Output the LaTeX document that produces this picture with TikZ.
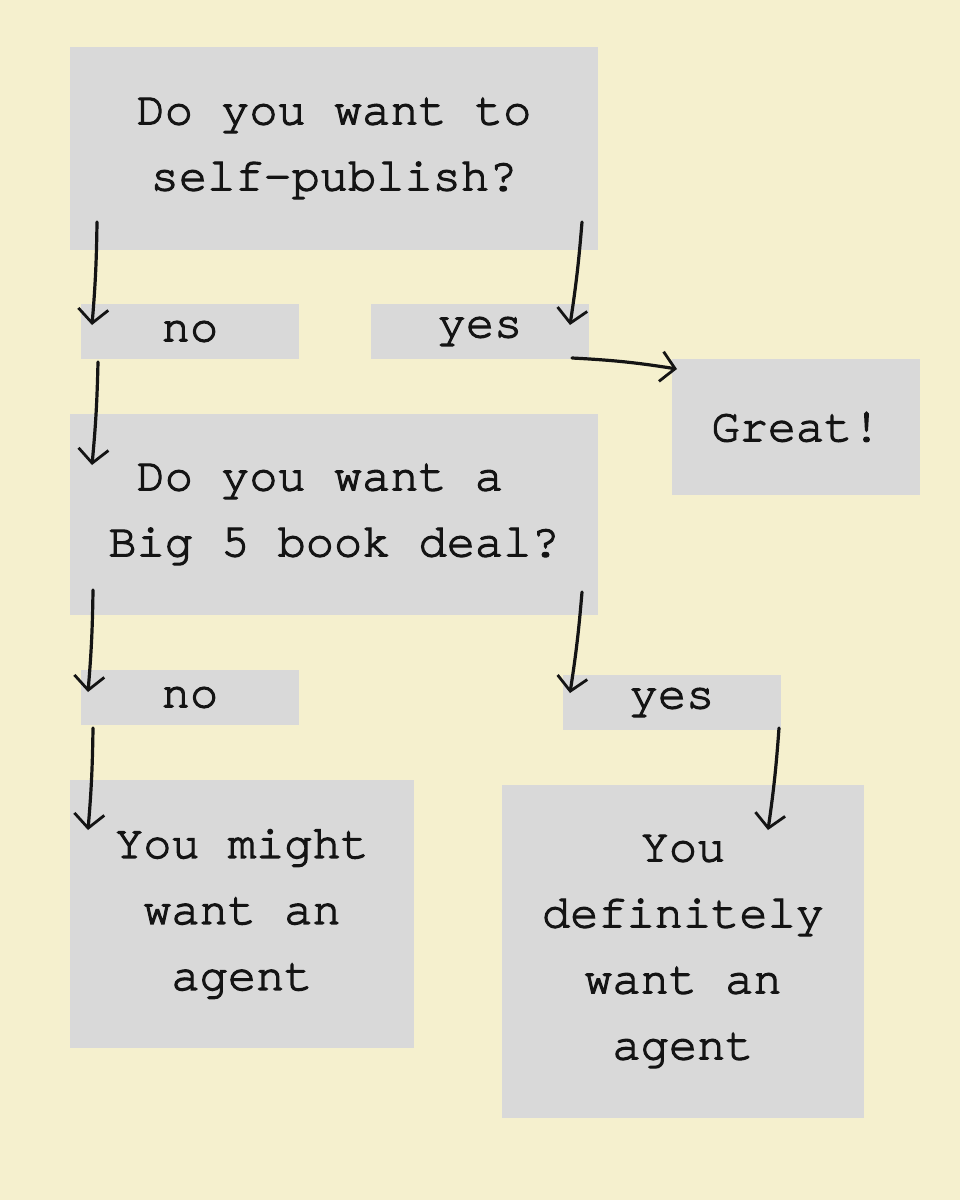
\documentclass[tikz,border=0pt]{standalone}
\usepackage{fontspec}
\setmainfont{TeX Gyre Cursor}[FakeBold=2.6,Ligatures={NoCommon}]
\usetikzlibrary{arrows.meta}
\definecolor{bgc}{RGB}{245,240,206}
\definecolor{boxc}{RGB}{217,217,217}
\definecolor{ink}{RGB}{20,20,20}
\begin{document}
\begin{tikzpicture}[x=1pt,y=-1pt,
  box/.style={fill=boxc,draw=none,inner sep=0pt,align=center,text=ink,
    font=\fontsize{47}{66}\selectfont},
  arr/.style={draw=ink,line width=3.2pt,line cap=round,
    -{Straight Barb[length=14pt,width=30pt,line width=2.8pt]}}]
\useasboundingbox[fill=bgc] (0,0) rectangle (960,1200);
\node[box,minimum width=528pt,minimum height=203pt] (q1) at (334,148.5) {Do you want to\\self-publish?};
\node[box,minimum width=218pt,minimum height=55pt] (no1) at (190,331.5) {no};
\node[box,minimum width=218pt,minimum height=55pt] (yes1) at (480,331.5) {yes};
\node[box,minimum width=248pt,minimum height=136pt] (great) at (796,427) {Great!};
\node[box,minimum width=528pt,minimum height=201pt] (q2) at (334,514.5) {Do you want a\phantom{x}\\Big 5 book deal?};
\node[box,minimum width=218pt,minimum height=55pt] (no2) at (190,697.5) {no};
\node[box,minimum width=218pt,minimum height=55pt] (yes2) at (672,702.5) {yes};
\node[box,minimum width=344pt,minimum height=268pt] (might) at (242,914) {You might\\want an\\agent};
\node[box,minimum width=362pt,minimum height=333pt] (def) at (683,951.5) {You\\definitely\\want an\\agent};
% connector ends
\coordinate (a1s) at (97,222); \coordinate (a1e) at (92,325);
\coordinate (a2s) at (582,222); \coordinate (a2e) at (570,325);
\coordinate (a3s) at (98,362); \coordinate (a3e) at (92,465);
\coordinate (a4s) at (572,358); \coordinate (a4e) at (677,369);
\coordinate (a5s) at (93,590); \coordinate (a5e) at (88,692);
\coordinate (a6s) at (582,592); \coordinate (a6e) at (570,693);
\coordinate (a7s) at (93,728); \coordinate (a7e) at (88,830);
\coordinate (a8s) at (779,728); \coordinate (a8e) at (768,830);
\draw[arr] (a1s) to[bend left=2] (a1e);
\draw[arr] (a2s) to[bend left=2] (a2e);
\draw[arr] (a3s) to[bend left=2] (a3e);
\draw[arr] (a4s) to[bend left=3] (a4e);
\draw[arr] (a5s) to[bend left=2] (a5e);
\draw[arr] (a6s) to[bend left=2] (a6e);
\draw[arr] (a7s) to[bend left=2] (a7e);
\draw[arr] (a8s) to[bend left=2] (a8e);
\end{tikzpicture}
\end{document}
